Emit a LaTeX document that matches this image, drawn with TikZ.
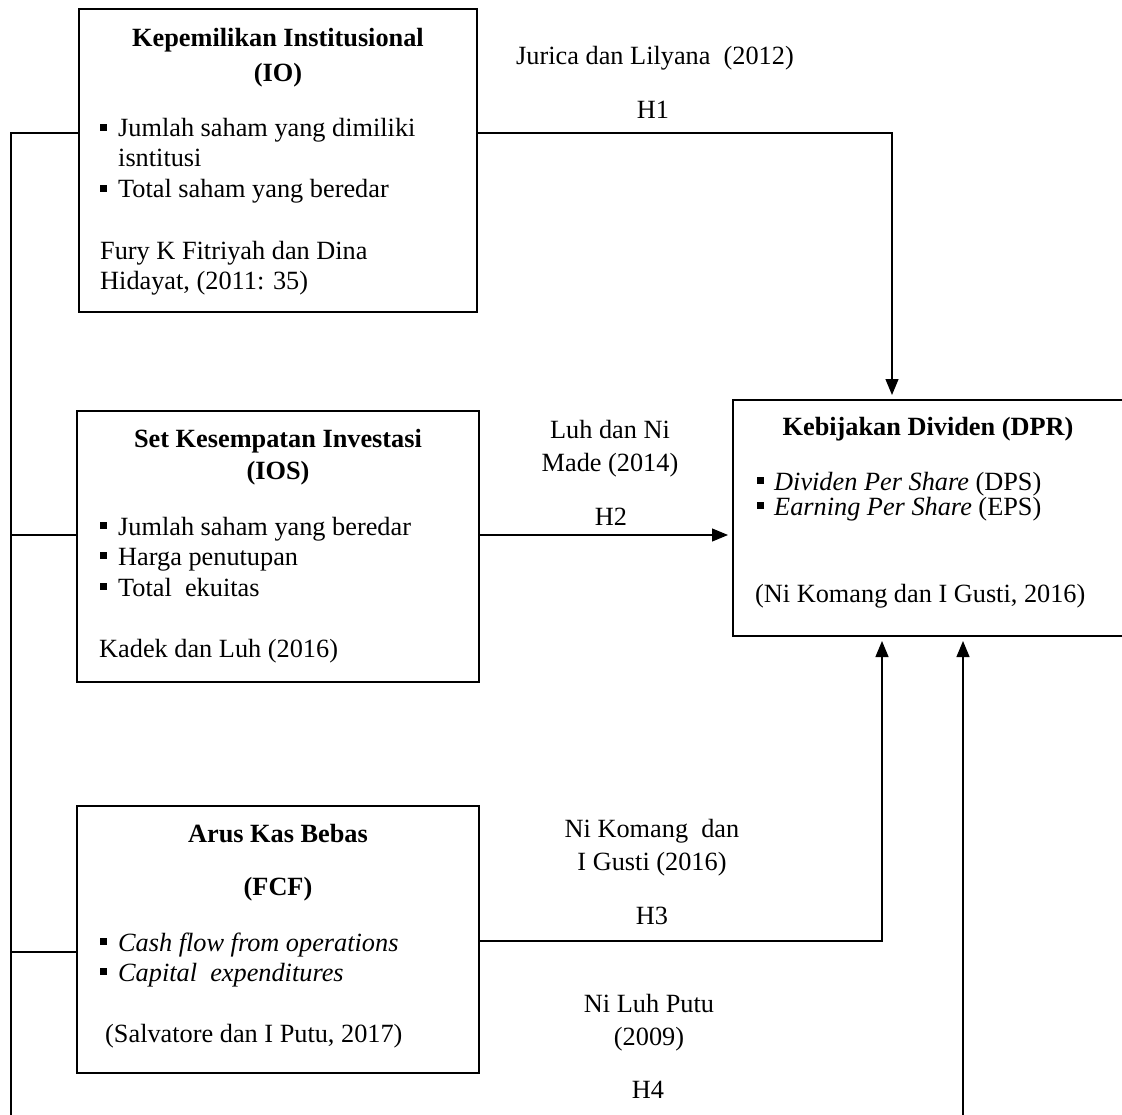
\documentclass[tikz,border=0pt]{standalone}
\usepackage{fontspec}
\setmainfont{Liberation Serif}
\usetikzlibrary{arrows.meta}
\newcommand\fsz{\fontsize{26.3pt}{30pt}\selectfont}
\newcommand\bul{\rule[6pt]{7pt}{7pt}\hspace{11pt}}
\begin{document}
\begin{tikzpicture}[x=1pt,y=-1pt,
  box/.style={draw, line width=2pt, inner sep=0pt},
  conn/.style={line width=1.2pt},
  arr/.style={-{Triangle[length=16pt,width=13pt]}, shorten >=4pt},
  lbl/.style={inner sep=0pt, anchor=base, font=\fsz},
  lblw/.style={inner sep=0pt, anchor=base west, font=\fsz}]
\clip (0,0) rectangle (1122,1115);
\fill[white] (0,0) rectangle (1122,1115);

% boxes
\node[box, minimum width=398pt, minimum height=303pt] (io) at (278,160.5) {};
\node[box, minimum width=402pt, minimum height=271pt] (ios) at (278,546.5) {};
\node[box, minimum width=402pt, minimum height=267pt] (fcf) at (278,939.5) {};
\node[box, minimum width=407pt, minimum height=236pt] (dpr) at (936.5,518) {};

% IO text
\node[lbl] (io-t1) at (278,47) {\textbf{Kepemilikan Institusional}};
\node[lbl] (io-t2) at (278,82) {\textbf{(IO)}};
\node[lblw] (io-b1) at (100,137) {\bul Jumlah saham yang dimiliki};
\node[lblw] (io-b1b) at (118,167) {isntitusi};
\node[lblw] (io-b2) at (100,198) {\bul Total saham yang beredar};
\node[lblw] (io-r1) at (100,260) {Fury K Fitriyah dan Dina};
\node[lblw] (io-r2) at (100,290) {Hidayat, (2011: 35)};

% IOS text
\node[lbl] (ios-t1) at (278,447) {\textbf{Set Kesempatan Investasi}};
\node[lbl] (ios-t2) at (278,479) {\textbf{(IOS)}};
\node[lblw] (ios-b1) at (100,535) {\bul Jumlah saham yang beredar};
\node[lblw] (ios-b2) at (100,565) {\bul Harga penutupan};
\node[lblw] (ios-b3) at (100,596) {\bul Total~ ekuitas};
\node[lblw] (ios-r) at (99,657) {Kadek dan Luh (2016)};

% FCF text
\node[lbl] (fcf-t1) at (278,842) {\textbf{Arus Kas Bebas}};
\node[lbl] (fcf-t2) at (278,895) {\textbf{(FCF)}};
\node[lblw] (fcf-b1) at (100,951) {\bul\textit{Cash flow from operations}};
\node[lblw] (fcf-b2) at (100,981) {\bul\textit{Capital~ expenditures}};
\node[lblw] (fcf-r) at (105,1042) {(Salvatore dan I Putu, 2017)};

% DPR text
\node[lbl] (dpr-t) at (928,435) {\textbf{Kebijakan Dividen (DPR)}};
\node[lblw] (dpr-b1) at (757,490) {\rule[6pt]{7pt}{7pt}\hspace{10pt}\textit{Dividen Per Share} (DPS)};
\node[lblw] (dpr-b2) at (757,515) {\rule[6pt]{7pt}{7pt}\hspace{10pt}\textit{Earning Per Share} (EPS)};
\node[lblw] (dpr-r) at (755,602) {(Ni Komang dan I Gusti, 2016)};

% connector labels
\node[lbl] (l1a) at (655,65) {Jurica dan Lilyana~ (2012)};
\node[lbl] (l1h) at (653,119) {H1};
\node[lbl] (l2a) at (610,438) {Luh dan Ni};
\node[lbl] (l2b) at (610,471) {Made (2014)};
\node[lbl] (l2h) at (611,525) {H2};
\node[lbl] (l3a) at (652,837) {Ni Komang~ dan};
\node[lbl] (l3b) at (652,870) {I Gusti (2016)};
\node[lbl] (l3h) at (652,924) {H3};
\node[lbl] (l4a) at (649,1012) {Ni Luh Putu};
\node[lbl] (l4b) at (649,1045) {(2009)};
\node[lbl] (l4h) at (648,1098) {H4};

% coordinates
\coordinate (busTop) at (11,133);
\coordinate (busIOS) at (11,535);
\coordinate (busFCF) at (11,952);
\coordinate (busBot) at (11,1135);
\coordinate (h4c) at (963,1135);

% connectors
\draw[conn, arr] (io.west |- busTop) -- (busTop) -- (busBot) -- (h4c) -- (dpr.south -| h4c);
\draw[conn] (ios.west |- busIOS) -- (busIOS);
\draw[conn] (fcf.west |- busFCF) -- (busFCF);
\draw[conn, arr] (io.east |- busTop) -| (dpr.north -| 892,0);
\draw[conn, arr] (ios.east |- busIOS) -- (dpr.west |- busIOS);
\draw[conn, arr] (fcf.east |- 0,941) -| (dpr.south -| 882,0);
\end{tikzpicture}
\end{document}
